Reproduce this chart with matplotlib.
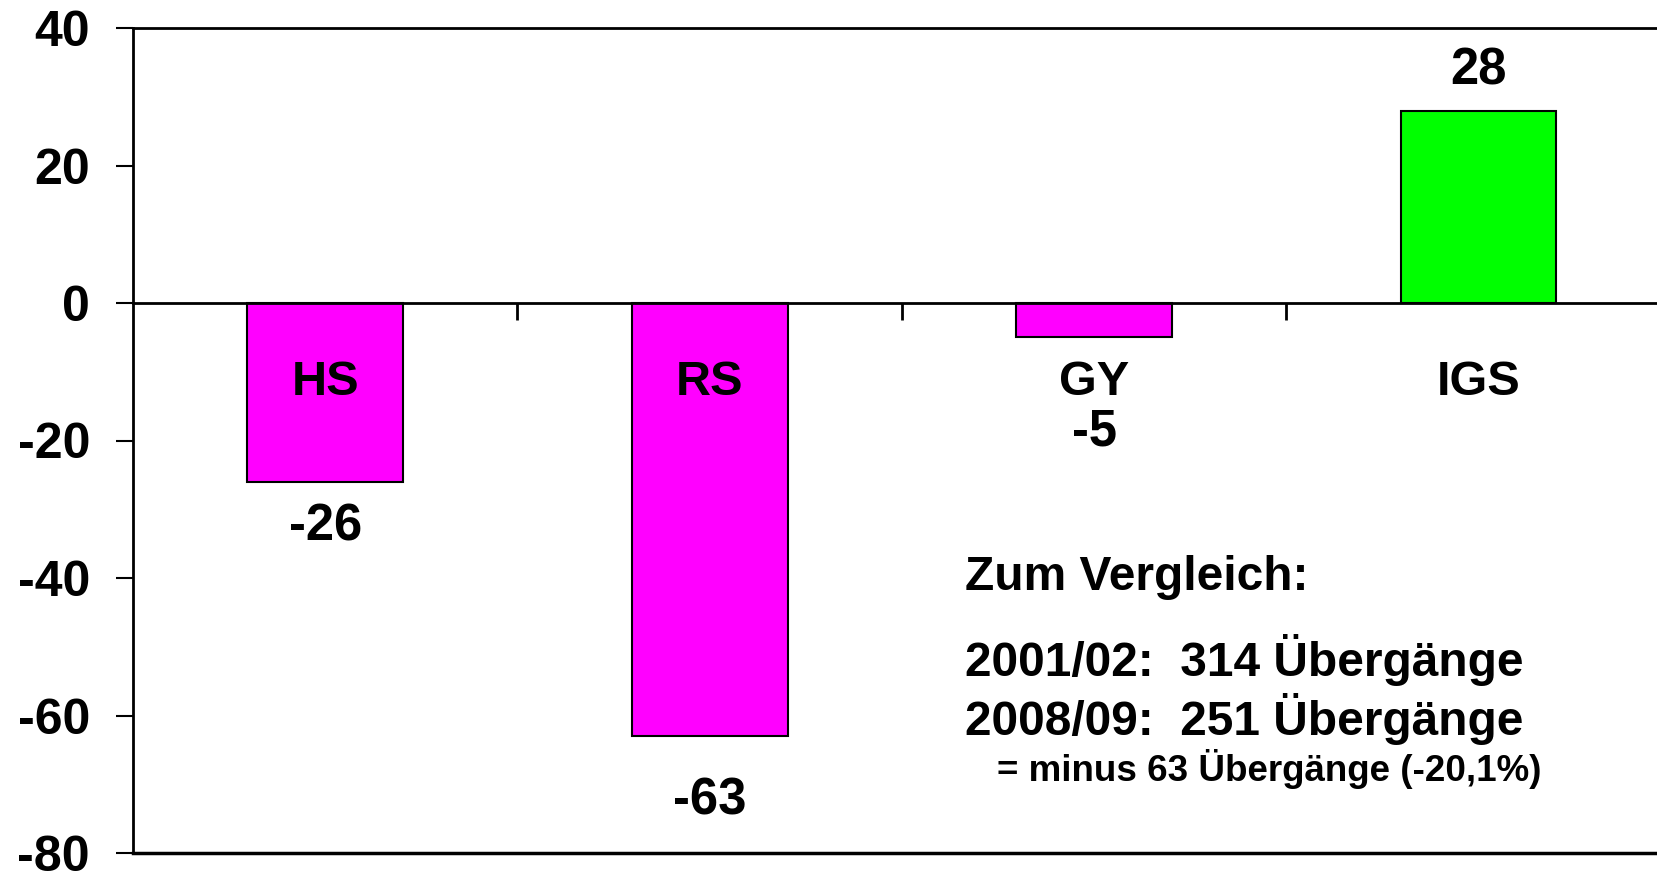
import matplotlib
matplotlib.use("Agg")
import matplotlib.pyplot as plt

categories = ["HS", "RS", "GY", "IGS"]
values = [-26, -63, -5, 28]
colors = ["#FF00FF", "#FF00FF", "#FF00FF", "#00FF00"]
yticks = [-80, -60, -40, -20, 0, 20, 40]
note_title = "Zum Vergleich:"
note_lines = ["2001/02:  314 Übergänge", "2008/09:  251 Übergänge"]
note_sub = "= minus 63 Übergänge (-20,1%)"

# layout (data units)
name_y = -11.5
value_label_y = [-32.6, -72.4, -18.8, 33.8]

plt.rcParams['font.family'] = ['Liberation Sans', 'DejaVu Sans']
fig = plt.figure(figsize=(16.57, 8.75), dpi=100)
ax = fig.add_axes([133/1657, 1-853/875, 1-133/1657, (853-28)/875])

x = list(range(len(categories)))
ax.bar(x, values, width=0.405, color=colors, edgecolor="black", linewidth=1.5, zorder=2)

ax.set_xlim(-0.5, 3.464)
ax.set_ylim(-80, 40)
ax.set_yticks(yticks)
ax.set_yticklabels([str(v) for v in yticks], fontsize=36, fontweight="bold")
ax.tick_params(axis="y", direction="out", length=12, width=1.5, pad=19)

ax.spines["bottom"].set_position(("data", 0))
ax.spines["right"].set_visible(False)
for s in ["left", "top", "bottom"]:
    ax.spines[s].set_linewidth(2)
ax.set_xticks([0.5, 1.5, 2.5])
ax.set_xticklabels([])
ax.tick_params(axis="x", direction="out", length=12, width=2)
ax.axhline(-80, color="black", linewidth=2.5, clip_on=False, zorder=3)

for xi, name, v, ly in zip(x, categories, values, value_label_y):
    ax.text(xi, name_y, name, ha="center", va="center", fontsize=35, fontweight="bold", zorder=4)
    ax.text(xi, ly, str(v), ha="center", va="center", fontsize=36.5, fontweight="bold", zorder=4)

fig.text(965/1657, 1-578/875, note_title, ha="left", va="center", fontsize=34.5,
         fontweight="bold")
fig.text(965/1657, 1-660/875, note_lines[0], ha="left", va="center", fontsize=34.5,
         fontweight="bold")
fig.text(965/1657, 1-719/875, note_lines[1], ha="left", va="center", fontsize=34.5,
         fontweight="bold")
fig.text(997/1657, 1-769/875, note_sub, ha="left", va="center", fontsize=26.5,
         fontweight="bold")

fig.savefig("out.png", dpi=100)
